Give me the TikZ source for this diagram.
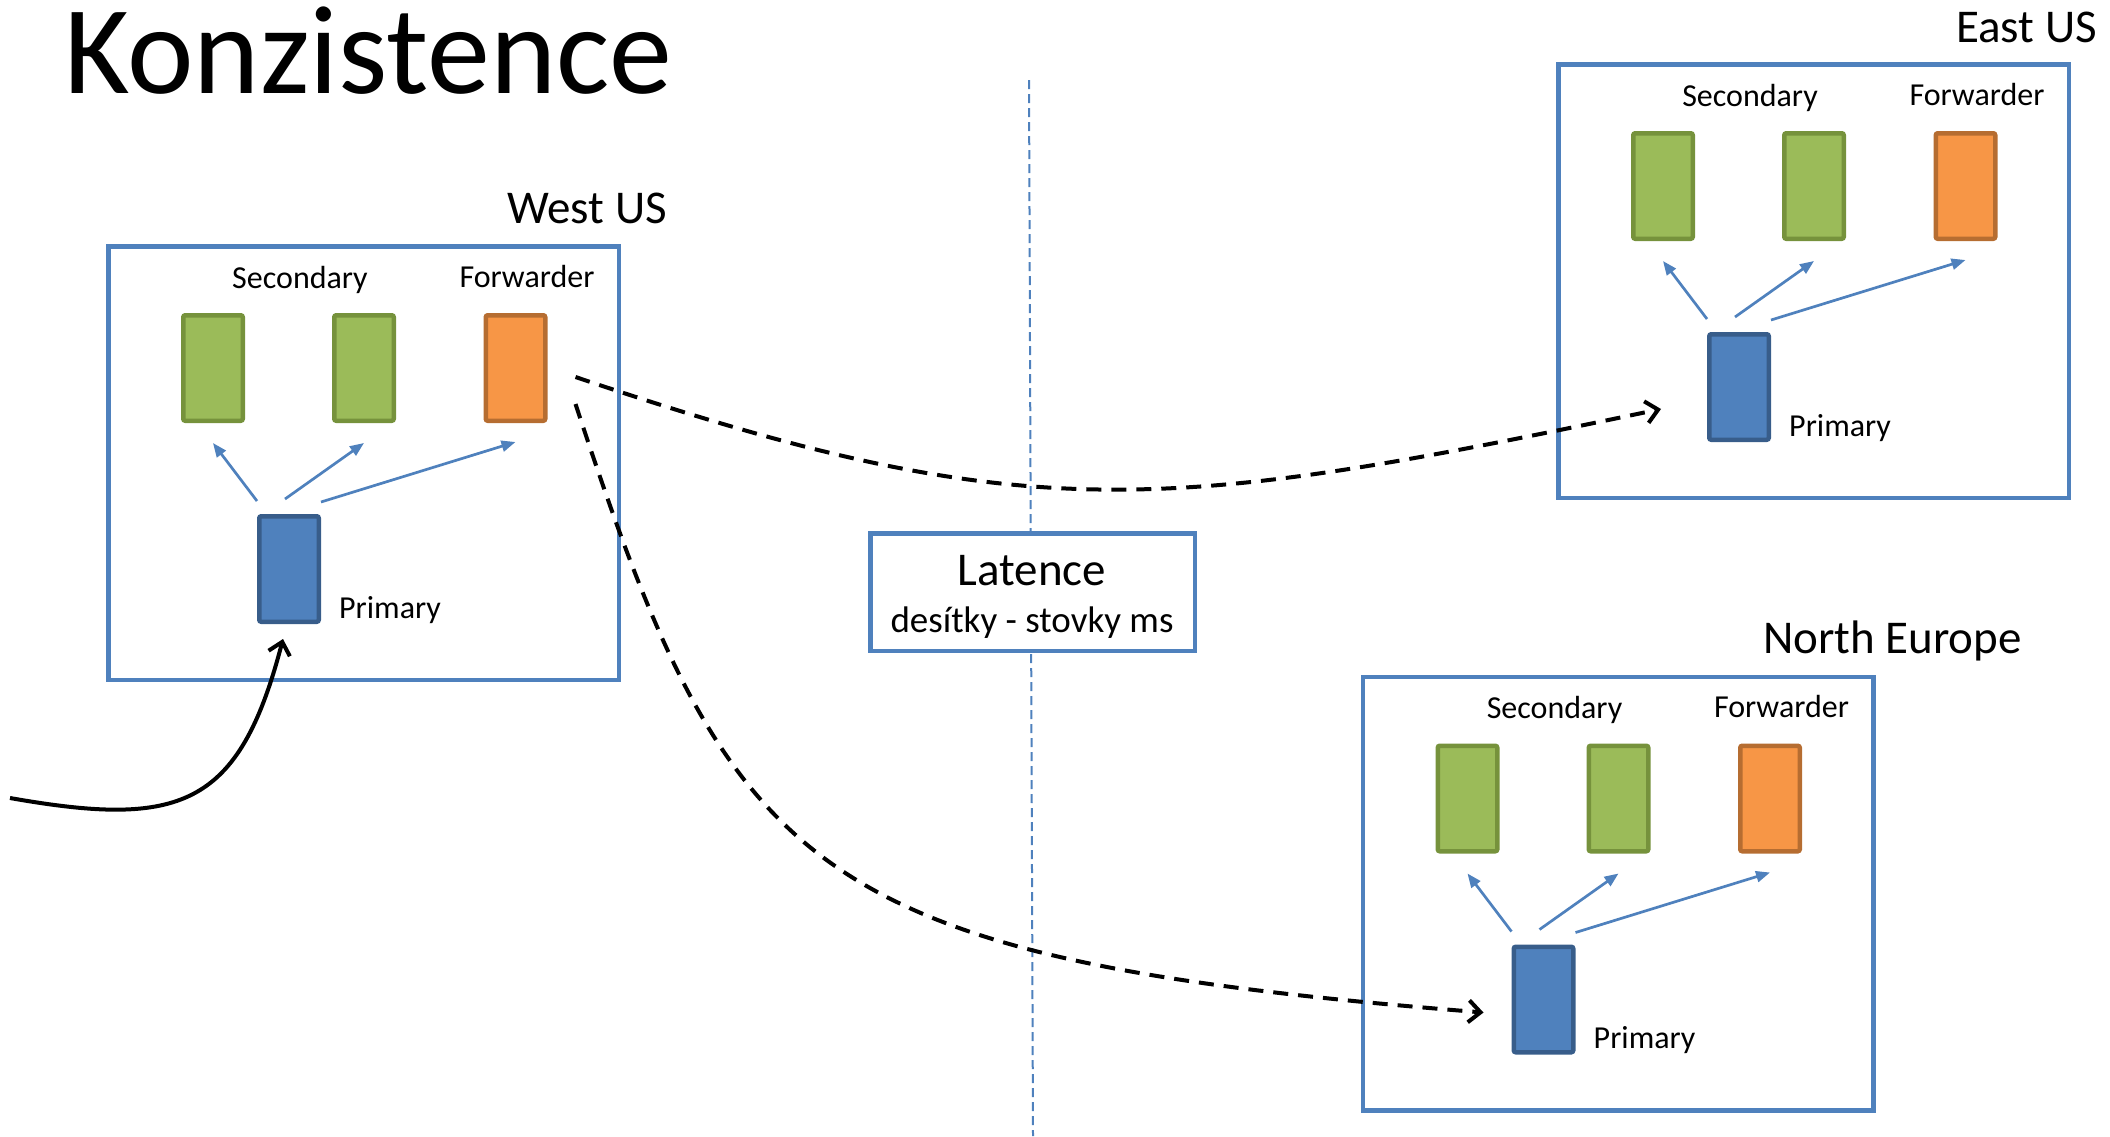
\documentclass[tikz,border=0pt]{standalone}
\usepackage{fontspec}
\setmainfont{Carlito}
\usetikzlibrary{arrows.meta}
\definecolor{regionblue}{HTML}{4F81BD}
\definecolor{greenfill}{HTML}{9BBB59}
\definecolor{greenline}{HTML}{76923C}
\definecolor{orangefill}{HTML}{F79646}
\definecolor{orangeline}{HTML}{B66D31}
\definecolor{bluefill}{HTML}{4F81BD}
\definecolor{blueline}{HTML}{385D8A}
\tikzstyle{region} = [rectangle, draw=regionblue, line width=4.5pt, minimum width=510.5pt, minimum height=433.5pt, inner sep=0pt]
\tikzstyle{latency} = [rectangle, draw=regionblue, fill=white, line width=4.5pt, minimum width=324.5pt, minimum height=117.5pt, inner sep=0pt]
\tikzstyle{secondary} = [rectangle, rounded corners=2pt, draw=greenline, fill=greenfill, line width=4.5pt, minimum width=59.5pt, minimum height=105.5pt, inner sep=0pt]
\tikzstyle{forwarder} = [rectangle, rounded corners=2pt, draw=orangeline, fill=orangefill, line width=4.5pt, minimum width=59.5pt, minimum height=105.5pt, inner sep=0pt]
\tikzstyle{primary} = [rectangle, rounded corners=2pt, draw=blueline, fill=bluefill, line width=4.5pt, minimum width=59.5pt, minimum height=105.5pt, inner sep=0pt]
\tikzstyle{rolelabel} = [anchor=base, inner sep=0pt, font=\fontsize{32}{36}\selectfont]
\tikzstyle{regionlabel} = [anchor=base east, inner sep=0pt, font=\fontsize{47}{52}\selectfont]
\tikzstyle{repl} = [draw=regionblue, line width=2.7pt, -{Triangle[length=14pt,width=11pt]}]
\tikzstyle{geo} = [draw=black, line width=4pt, dash pattern=on 15pt off 10pt, -{Straight Barb[length=12pt,width=22pt]}]
\tikzstyle{client} = [draw=black, line width=4pt, -{Straight Barb[length=12pt,width=22pt]}]
\tikzstyle{divider} = [draw=regionblue, line width=2pt, dash pattern=on 9pt off 5pt]

\begin{document}
\begin{tikzpicture}[x=1pt, y=-1pt]
\useasboundingbox (0,0) rectangle (2110,1136);

\node (title) [anchor=base west, inner sep=0pt, font=\fontsize{126}{130}\selectfont] at (64,93) {Konzistence};

% delici cara
\coordinate (divtop) at (1029,80);
\coordinate (divbot) at (1033,1136);
\draw [divider] (divtop) -- (divbot);

% West US
\node (west) [region] at (363.5,463) {};
\node (westlabel) [regionlabel] at (667,223) {West US};
\node (wsec1) [secondary] at (213,368) {};
\node (wsec2) [secondary] at (364,368) {};
\node (wfwd) [forwarder] at (515.5,368) {};
\node (wpri) [primary] at (289,569) {};
\node (wseclabel) [rolelabel] at (300,288) {Secondary};
\node (wfwdlabel) [rolelabel] at (527,287) {Forwarder};
\node (wprilabel) [rolelabel, anchor=base west] at (339,618) {Primary};

% East US
\node (east) [region] at (1813.5,281) {};
\node (eastlabel) [regionlabel] at (2097,42) {East US};
\node (esec1) [secondary] at (1663,186) {};
\node (esec2) [secondary] at (1814,186) {};
\node (efwd) [forwarder] at (1965.5,186) {};
\node (epri) [primary] at (1739,387) {};
\node (eseclabel) [rolelabel] at (1750,106) {Secondary};
\node (efwdlabel) [rolelabel] at (1977,105) {Forwarder};
\node (eprilabel) [rolelabel, anchor=base west] at (1789,436) {Primary};

% North Europe
\node (north) [region] at (1618,893.5) {};
\node (northlabel) [regionlabel] at (2022,653) {North Europe};
\node (nsec1) [secondary] at (1467.5,798.5) {};
\node (nsec2) [secondary] at (1618.5,798.5) {};
\node (nfwd) [forwarder] at (1770,798.5) {};
\node (npri) [primary] at (1543.5,999.5) {};
\node (nseclabel) [rolelabel] at (1554.5,718.5) {Secondary};
\node (nfwdlabel) [rolelabel] at (1781.5,717.5) {Forwarder};
\node (nprilabel) [rolelabel, anchor=base west] at (1593.5,1048.5) {Primary};

% latence
\node (lat) [latency] at (1032.5,592) {};
\node (lattitle) [anchor=base, inner sep=0pt, font=\fontsize{47}{52}\selectfont] at (1032,585) {Latence};
\node (latvalue) [anchor=base, inner sep=0pt, font=\fontsize{37}{42}\selectfont] at (1032,632) {desítky - stovky ms};

% replikace uvnitr regionu
\draw [repl] ([yshift=13pt]wpri.north west) -- ([yshift=-20pt]wsec1.south);
\draw [repl] ([xshift=-4pt,yshift=15pt]wpri.north) -- ([yshift=-20pt]wsec2.south);
\draw [repl] ([yshift=12pt]wpri.north east) -- ([yshift=-19pt]wfwd.south);
\draw [repl] ([yshift=13pt]epri.north west) -- ([yshift=-20pt]esec1.south);
\draw [repl] ([xshift=-4pt,yshift=15pt]epri.north) -- ([yshift=-20pt]esec2.south);
\draw [repl] ([yshift=12pt]epri.north east) -- ([yshift=-19pt]efwd.south);
\draw [repl] ([yshift=13pt]npri.north west) -- ([yshift=-20pt]nsec1.south);
\draw [repl] ([xshift=-4pt,yshift=15pt]npri.north) -- ([yshift=-20pt]nsec2.south);
\draw [repl] ([yshift=12pt]npri.north east) -- ([yshift=-19pt]nfwd.south);

% klient
\coordinate (cin) at (10,798);
\draw [client] (cin) .. controls (180,828) and (239,808) .. ([xshift=-6pt,yshift=-15pt]wpri.south);

% geo replikace
\draw [geo] ([xshift=28pt,yshift=-9pt]wfwd.east) .. controls (1026,529) and (1161,514) .. ([xshift=-46pt,yshift=-22pt]epri.west);
\draw [geo] ([xshift=28pt,yshift=-36pt]wfwd.east) .. controls (730,873) and (803,958) .. ([xshift=-28pt,yshift=-13pt]npri.west);

\end{tikzpicture}
\end{document}
